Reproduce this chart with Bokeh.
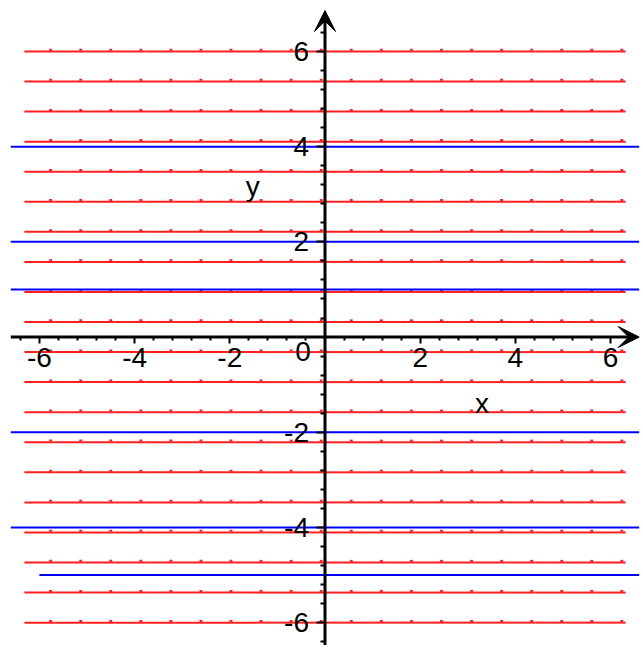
from bokeh.plotting import figure
from bokeh.models import (Range1d, FixedTicker, LinearAxis, Arrow, VeeHead, Label,
                          ColumnDataSource)
from bokeh.embed import file_html
from bokeh.resources import INLINE

# direction-field grid (20 x 20 lattice over [-6, 6])
field_x = [-6.0, -5.368, -4.737, -4.105, -3.474, -2.842, -2.211, -1.579, -0.947, -0.316,
           0.316, 0.947, 1.579, 2.211, 2.842, 3.474, 4.105, 4.737, 5.368, 6.0]
field_y = [-6.0, -5.368, -4.737, -4.105, -3.474, -2.842, -2.211, -1.579, -0.947, -0.316,
           0.316, 0.947, 1.579, 2.211, 2.842, 3.474, 4.105, 4.737, 5.368, 6.0]
field_slope = [0.0] * len(field_x)

# solution curves (horizontal lines y = c)
sol_y = [4, 2, 1, -2, -4, -5]
sol_x_start = [-6.6, -6.6, -6.6, -6.6, -6.6, -6.0]
sol_x_end = [6.6, 6.6, 6.6, 6.6, 6.6, 6.6]

x_ticks = [-6, -4, -2, 2, 4, 6]
x_tick_labels = ["-6", "-4", "-2", "2", "4", "6"]
y_ticks = [-6, -4, -2, 2, 4, 6]
y_tick_labels = ["-6", "-4", "-2", "2", "4", "6"]
origin_label = "0"

FONT = "Liberation Sans"
RED = "#ff1f1f"

p = figure(width=640, height=645, x_range=Range1d(-6.817, 6.628),
           y_range=Range1d(-6.48, 7.07), output_backend="svg",
           toolbar_location=None, min_border=0, x_axis_type=None, y_axis_type=None)
p.outline_line_color = None
p.background_fill_color = "white"
p.border_fill_color = "white"

# direction field arrows
half = (field_x[1] - field_x[0]) / 2
ax0, ax1, ay, bx0, bx1, by = [], [], [], [], [], []
for yv in field_y:
    for xv, s in zip(field_x, field_slope):
        ax0.append(xv - half)
        ax1.append(xv + half)
        ay.append(yv)
        tip = xv + half
        bx0.append(tip - 0.11)
        bx1.append(tip - 0.05)
        by.append(yv + 0.035)
src = ColumnDataSource(dict(x0=ax0, x1=ax1, y=ay))
p.segment(x0="x0", y0="y", x1="x1", y1="y", source=src, line_color=RED, line_width=2)
bsrc = ColumnDataSource(dict(x0=bx0, x1=bx1, y=by))
p.segment(x0="x0", y0="y", x1="x1", y1="y", source=bsrc, line_color=RED, line_width=2)

# solution curves
ssrc = ColumnDataSource(dict(x0=sol_x_start, x1=sol_x_end, y=sol_y))
p.segment(x0="x0", y0="y", x1="x1", y1="y", source=ssrc, line_color="#0000ff", line_width=2)

# axes through origin
minor = [round(k * 0.4, 1) for k in range(-16, 17) if k % 5 != 0]


def style_axis(ax, tick_out, minor_out, standoff, ticks, labels):
    ax.axis_line_color = None
    ax.major_tick_out = tick_out
    ax.major_tick_in = 0
    ax.minor_tick_out = minor_out
    ax.minor_tick_in = 0
    ax.major_tick_line_width = 2
    ax.minor_tick_line_width = 2
    ax.major_tick_line_color = "black"
    ax.minor_tick_line_color = "black"
    ax.major_label_text_font = FONT
    ax.major_label_text_font_size = "28px"
    ax.major_label_text_color = "black"
    ax.major_label_standoff = standoff
    ax.major_label_overrides = {t: lab for t, lab in zip(ticks, labels)}


xaxis = LinearAxis(ticker=FixedTicker(ticks=x_ticks, minor_ticks=minor), fixed_location=0)
style_axis(xaxis, 6, 3, 5, x_ticks, x_tick_labels)
p.add_layout(xaxis, "below")

yaxis = LinearAxis(ticker=FixedTicker(ticks=y_ticks, minor_ticks=minor), fixed_location=0)
style_axis(yaxis, 8, 4, 8, y_ticks, y_tick_labels)
yaxis.major_label_orientation = "horizontal"
p.add_layout(yaxis, "left")

p.add_layout(Arrow(end=VeeHead(size=21, fill_color="black", line_color="black"),
                   x_start=0, y_start=-6.48, x_end=0, y_end=6.86,
                   line_color="black", line_width=3))
p.add_layout(Arrow(end=VeeHead(size=21, fill_color="black", line_color="black"),
                   x_start=-6.6, y_start=0, x_end=6.6, y_end=0,
                   line_color="black", line_width=3))

p.add_layout(Label(x=-0.46, y=-0.30, text=origin_label, text_align="center",
                   text_baseline="middle", text_font=FONT, text_font_size="28px",
                   text_color="black"))
p.add_layout(Label(x=-1.52, y=3.17, text="y", text_align="center",
                   text_baseline="middle", text_font=FONT, text_font_size="28px",
                   text_color="black"))
p.add_layout(Label(x=3.30, y=-1.40, text="x", text_align="center",
                   text_baseline="middle", text_font=FONT, text_font_size="28px",
                   text_color="black"))

open("out.html", "w").write(file_html(p, INLINE))
